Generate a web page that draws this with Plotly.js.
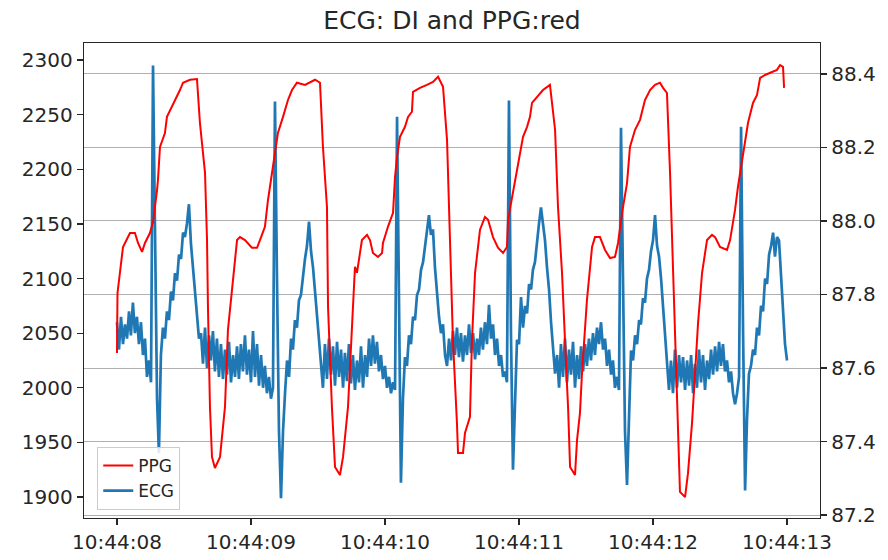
<!DOCTYPE html>
<html><head><meta charset="utf-8">
<script src="https://cdn.plot.ly/plotly-3.0.1.min.js"></script>
<style>html,body{margin:0;padding:0;background:#fff}#chart{width:888px;height:560px}</style>
</head><body><div id="chart"></div>
<script>
const chartTitle = 'ECG: DI and PPG:red';
const startStamp = '2000-01-01 10:44:08';
const ecgRateHz = 67;
const ecgValues = [
2060,2035,2065,2040,2058,2045,2070,2048,2078,2050,2065,2040,2060,2030,2045,2010,2025,2005,2295,2120,1990,1940,
2030,2055,2045,2070,2062,2088,2080,2105,2098,2122,2118,2142,2138,2150,2168,2132,2110,2090,2062,2045,
2050,2022,2055,2018,2048,2025,2052,2015,2045,2010,2040,2008,2035,2012,2042,2005,2030,2010,2038,2008,2040,2015,2048,2012,2035,2005,2052,2010,2040,2002,2030,2000,2020,1995,2010,1990,2000,
2262,2100,1960,1899,1960,1995,
2025,2010,2045,2035,2062,2055,2080,2085,2105,2118,2130,2152,2125,2110,2088,2065,2045,2028,2000,
2040,2008,2045,2012,2038,2002,2042,2010,2035,2000,2032,2006,2040,2004,2030,1998,2025,2005,2038,2000,2030,2010,2045,2020,2048,2022,2042,2015,2030,2008,2020,2000,2010,1995,2005,1998,
2248,2060,1913,1990,2028,
2020,2048,2040,2065,2062,2085,2090,2108,2115,2130,2142,2158,2140,2145,2110,2085,2065,2050,2058,2030,2020,
2045,2025,2052,2030,2055,2028,2050,2024,2048,2030,2058,2032,2050,2026,2045,2030,2055,2035,2060,2040,2076,2045,2058,2030,2045,2020,2030,2010,2015,2005,
2263,2050,1925,1990,2044,
2040,2083,2055,2075,2068,2095,2090,2108,2115,2135,2150,2165,2150,2135,2110,2090,2060,2035,2013,
2030,2000,2040,2010,2045,2005,2035,2012,2042,2000,2030,2008,2038,2015,2040,2020,2045,2025,2050,2030,2055,2040,2060,2035,2045,2020,2035,2012,2025,2000,2010,1998,
2238,2080,1960,1911,1980,2034,
2025,2048,2040,2062,2058,2082,2078,2100,2108,2125,2135,2158,2130,2120,2100,2075,2045,2030,1998,
2025,1995,2035,2000,2030,2005,2028,1998,2025,2002,2030,1995,2022,2000,2035,2005,2030,1998,2025,2008,2035,2012,2038,2015,2042,2020,2040,2015,2025,2005,2015,1995,1985,1995,2010,
2239,2050,1906,1970,2013,
2020,2035,2030,2055,2048,2075,2070,2100,2095,2122,2130,2142,2120,2138,2135,2100,2065,2040,2025
];
const ppgSeconds = [
0.000,0.004,0.045,0.097,0.134,0.157,0.187,0.209,0.246,0.269,0.299,0.306,0.321,0.358,0.373,0.410,0.448,0.470,0.493,0.545,0.597,
0.619,0.657,0.672,0.679,0.694,0.709,0.731,0.769,0.806,0.828,
0.866,0.896,0.918,0.955,1.007,1.045,1.067,1.104,1.127,1.157,1.179,1.201,1.239,1.276,1.306,1.343,1.403,1.440,1.478,1.515,
1.537,1.567,1.575,1.604,1.627,1.664,1.687,1.724,1.754,1.776,
1.791,1.828,1.866,1.888,1.910,1.948,1.978,1.985,2.022,2.060,2.075,2.090,2.112,2.149,2.172,2.201,2.209,2.261,2.313,2.358,2.396,
2.433,2.463,2.485,2.507,2.537,2.545,2.582,2.597,2.634,2.649,2.672,2.709,2.746,2.769,2.806,2.843,
2.881,2.910,2.918,2.948,2.985,3.007,3.030,3.060,3.082,3.097,3.134,3.179,3.231,
3.269,3.291,3.321,3.343,3.366,3.381,3.418,3.433,3.455,3.470,3.507,3.545,3.567,3.604,3.642,3.679,3.716,3.739,3.769,3.806,3.828,3.866,3.903,3.940,3.978,4.015,4.052,4.075,4.104,
4.127,4.149,4.164,4.187,4.201,4.239,4.261,4.291,4.313,4.336,4.366,4.403,4.440,4.463,4.500,4.552,4.575,4.612,4.634,4.664,4.687,4.709,4.746,4.776,4.799,4.836,4.888,4.925,4.948,4.970,4.978
];
const ppgValues = [
87.641,87.804,87.929,87.967,87.967,87.940,87.916,87.940,87.967,87.997,88.084,88.112,88.201,88.239,88.283,88.310,88.337,88.356,88.376,88.384,88.386,
88.267,88.131,87.948,87.766,87.494,87.358,87.328,87.358,87.494,87.703,
87.839,87.948,87.956,87.948,87.927,87.927,87.948,87.984,88.057,88.131,88.193,88.239,88.283,88.329,88.356,88.376,88.370,88.378,88.384,88.376,
88.201,88.038,87.766,87.494,87.331,87.309,87.358,87.494,87.722,87.875,
87.859,87.948,87.962,87.948,87.913,87.902,87.913,87.940,87.984,88.022,88.120,88.174,88.229,88.256,88.283,88.297,88.351,88.362,88.370,88.378,88.392,
88.365,88.220,87.948,87.676,87.450,87.369,87.369,87.423,87.467,87.676,87.859,87.976,88.011,88.003,87.956,87.927,
87.913,87.929,88.003,88.065,88.131,88.185,88.229,88.256,88.283,88.321,88.337,88.356,88.370,
88.248,88.038,87.859,87.676,87.494,87.331,87.309,87.404,87.478,87.586,87.785,87.929,87.956,87.956,87.921,87.899,87.902,87.940,88.022,88.103,88.201,88.248,88.275,88.329,88.356,88.370,88.376,88.362,88.348,
88.131,87.859,87.676,87.404,87.263,87.249,87.314,87.450,87.586,87.722,87.859,87.948,87.962,87.956,87.929,87.921,87.948,88.030,88.093,88.166,88.212,88.267,88.321,88.343,88.389,88.397,88.405,88.411,88.424,88.419,88.362
];
const ecgTickValues = [1900,1950,2000,2050,2100,2150,2200,2250,2300];
const ppgTickValues = [87.2,87.4,87.6,87.8,88.0,88.2,88.4];

const baseMs = Date.parse(startStamp.replace(' ', 'T') + 'Z');
function stamp(sec) {
  return new Date(baseMs + Math.round(sec * 1000)).toISOString().replace('T', ' ').replace('Z', '');
}
const ecgTimes = ecgValues.map((_, i) => stamp(i / ecgRateHz));
const ppgTimes = ppgSeconds.map(stamp);

const ink = '#262626';
const font = {family: 'DejaVu Sans, sans-serif', size: 20, color: ink};

const traces = [
  {x: ecgTimes, y: ecgValues, name: 'ECG', type: 'scatter', mode: 'lines',
   line: {color: '#1f77b4', width: 2.7}, yaxis: 'y', legendrank: 2},
  {x: ppgTimes, y: ppgValues, name: 'PPG', type: 'scatter', mode: 'lines',
   line: {color: '#ff0000', width: 2}, yaxis: 'y2', legendrank: 1}
];

const layout = {
  width: 888, height: 560,
  margin: {l: 84, r: 68, t: 43, b: 42, pad: 0},
  paper_bgcolor: '#fff', plot_bgcolor: '#fff',
  font: font,
  title: {text: chartTitle, font: {family: 'DejaVu Sans, sans-serif', size: 25, color: ink},
          x: 0.509, xanchor: 'center', y: 0.964, yanchor: 'middle', yref: 'container'},
  showlegend: true,
  legend: {x: 0.018, y: 0.017, xanchor: 'left', yanchor: 'bottom',
           bgcolor: 'rgba(255,255,255,0.85)', bordercolor: '#cccccc', borderwidth: 1,
           font: {family: 'DejaVu Sans, sans-serif', size: 17, color: ink}},
  xaxis: {type: 'date', range: [stamp(-0.246), stamp(5.246)],
          tickformat: '%H:%M:%S', dtick: 1000, tick0: startStamp,
          showgrid: false, zeroline: false, showline: true, mirror: true,
          linecolor: ink, linewidth: 1.3, ticks: 'outside', ticklen: 6, tickwidth: 1.3, tickcolor: ink,
          tickfont: font},
  yaxis: {range: [1880.8, 2315.6], tickvals: ecgTickValues,
          showgrid: false, zeroline: false, showline: true,
          linecolor: ink, linewidth: 1.3, ticks: 'outside', ticklen: 6, tickwidth: 1.3, tickcolor: ink,
          tickfont: font},
  yaxis2: {range: [87.192, 88.484], tickvals: ppgTickValues, tickformat: '.1f',
           overlaying: 'y', side: 'right',
           showgrid: true, gridcolor: '#b0b0b0', gridwidth: 1, zeroline: false, showline: true,
           linecolor: ink, linewidth: 1.3, ticks: 'outside', ticklen: 6, tickwidth: 1.3, tickcolor: ink,
           tickfont: font}
};

Plotly.newPlot('chart', traces, layout, {displayModeBar: false, staticPlot: true});
</script>
</body></html>
